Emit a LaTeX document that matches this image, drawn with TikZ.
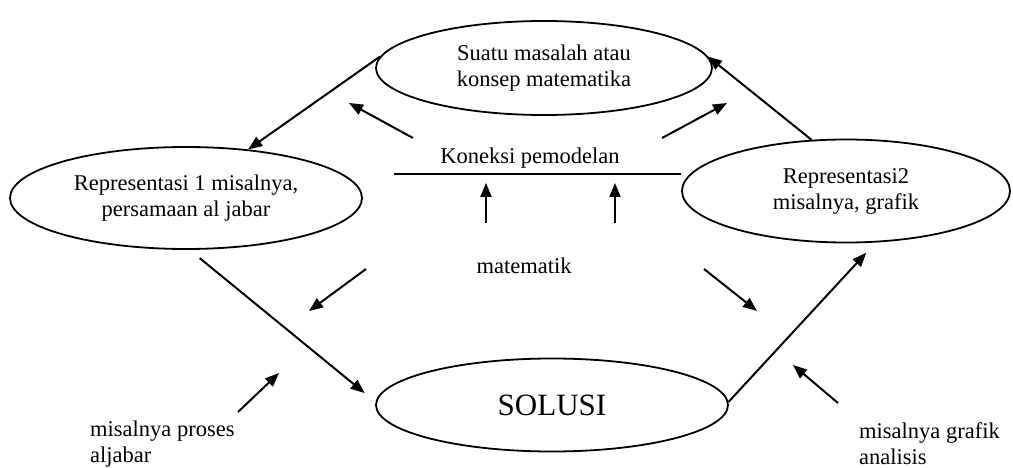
\documentclass[tikz,border=0pt]{standalone}
\usepackage{fontspec}
\setmainfont{Liberation Serif}
\usetikzlibrary{shapes.geometric,arrows.meta}

\begin{document}
\begin{tikzpicture}[x=1pt, y=-1pt,
        oval/.style={draw, ellipse, line width=1.8pt, inner sep=0pt, align=center,
                     font=\fontsize{22.5}{26}\selectfont},
        lbl/.style={inner sep=0pt, align=left, font=\fontsize{22.5}{26}\selectfont},
        arr/.style={line width=2pt, -{Triangle[length=14pt, width=11pt]}}]
        \useasboundingbox (0,0) rectangle (1013,468);
        \node [oval, minimum width=336pt, minimum height=94pt]  (masalah) at (544,68)  {Suatu masalah atau\\konsep matematika};
        \node [oval, minimum width=352pt, minimum height=102pt] (rep1)    at (186,198) {Representasi 1 misalnya,\\persamaan al jabar};
        \node [oval, minimum width=328pt, minimum height=103pt] (rep2)    at (846,191) {Representasi2\\misalnya, grafik};
        \node [oval, minimum width=352pt, minimum height=93pt,
               font=\fontsize{31}{36}\selectfont]              (solusi)  at (552,405) {SOLUSI};
        \node [lbl]                 (koneksi)   at (530,158)  {Koneksi pemodelan};            %
        \node [lbl]                 (matematik) at (524,266)  {matematik};                    %
        \node [lbl, anchor=west]    (aljabar)   at (90,444)   {misalnya proses\\aljabar};     %
        \node [lbl, anchor=west]    (analisis)  at (859,444)  {misalnya grafik\\analisis};    %

        \draw [arr]                                 (masalah.176) -- (rep1.38);     % ke kiri
        \draw [arr]                                 (rep2.124)    -- (masalah.4);   % ke atas
        \draw [arr, shorten <=13pt, shorten >=14pt] (rep1.-86)    -- (solusi.179);  % ke solusi
        \draw [arr, shorten >=14pt]                 (solusi.1)    -- (rep2.-60);    % ke kanan

        \coordinate (garis) at (394,174);                                           %
        \draw [line width=1.8pt]    (garis) -- (garis -| rep2.west);                % garis koneksi

        \coordinate (kiri-a)  at (413,138);   \coordinate (kiri-b)  at (349,103);   %
        \coordinate (kanan-a) at (662,138);   \coordinate (kanan-b) at (727,103);   %
        \coordinate (naik1-a) at (486,223);   \coordinate (naik1-b) at (486,183);   %
        \coordinate (naik2-a) at (615,223);   \coordinate (naik2-b) at (615,183);   %
        \coordinate (turun1-a) at (366,269);  \coordinate (turun1-b) at (309,311);  %
        \coordinate (turun2-a) at (704,269);  \coordinate (turun2-b) at (757,311);  %
        \coordinate (proses-a) at (238,412);  \coordinate (proses-b) at (279,373);  %
        \coordinate (grafik-a) at (838,403);  \coordinate (grafik-b) at (793,365);  %

        \draw [arr] (kiri-a)   -- (kiri-b);     %
        \draw [arr] (kanan-a)  -- (kanan-b);    %
        \draw [arr] (naik1-a)  -- (naik1-b);    %
        \draw [arr] (naik2-a)  -- (naik2-b);    %
        \draw [arr] (turun1-a) -- (turun1-b);   %
        \draw [arr] (turun2-a) -- (turun2-b);   %
        \draw [arr] (proses-a) -- (proses-b);   % misalnya proses aljabar
        \draw [arr] (grafik-a) -- (grafik-b);   % misalnya grafik analisis
\end{tikzpicture}
\end{document}
